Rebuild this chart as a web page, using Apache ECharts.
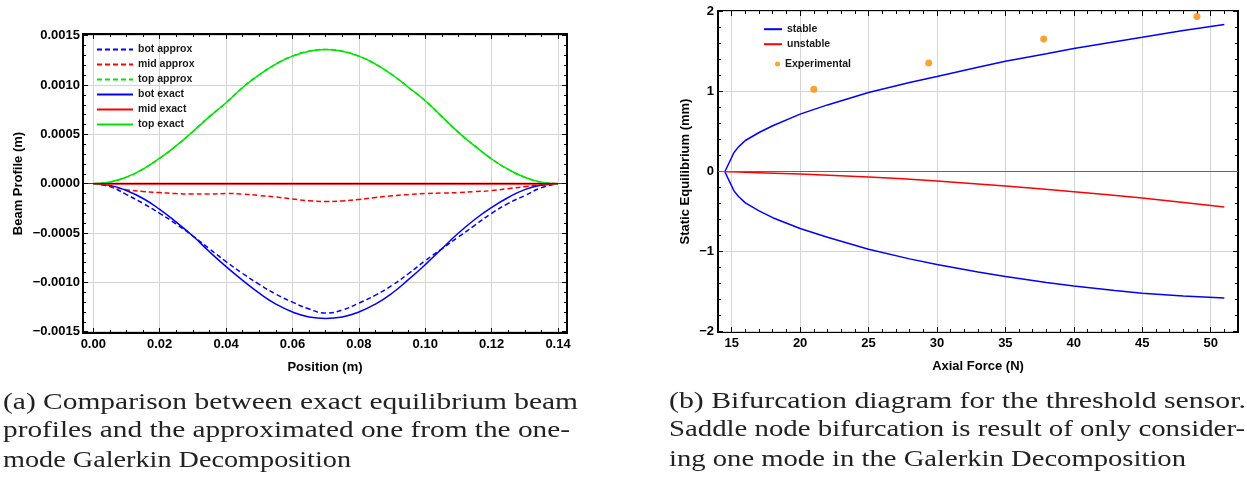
<!DOCTYPE html>
<html>
<head>
<meta charset="utf-8">
<script src="https://cdn.jsdelivr.net/npm/echarts@6/dist/echarts.min.js"></script>
<style>
html,body{margin:0;padding:0;background:#fff;}
#chart{width:1247px;height:483px;}
</style>
</head>
<body>
<div id="chart"></div>
<script>
// ---------- Panel (a): beam profiles ----------
const positionX = [0, 0.005, 0.01, 0.015, 0.02, 0.025, 0.03, 0.035, 0.04, 0.045, 0.05, 0.055, 0.06, 0.065, 0.07,
  0.075, 0.08, 0.085, 0.09, 0.095, 0.10, 0.105, 0.11, 0.115, 0.12, 0.125, 0.13, 0.135, 0.14];
const botApprox = [0, -0.00003, -0.00011, -0.0002, -0.0003, -0.00041, -0.00053, -0.00066, -0.00079, -0.00091, -0.00102, -0.00112, -0.0012, -0.00127, -0.00131,
  -0.00128, -0.00121, -0.00113, -0.00103, -0.00091, -0.00078, -0.00066, -0.00054, -0.00042, -0.0003, -0.0002, -0.00012, -0.00004, 0];
const midApprox = [0, -0.000025, -0.00006, -0.00008, -0.00009, -0.0001, -0.000105, -0.000105, -0.0001, -0.000105, -0.00012, -0.000135, -0.000155, -0.000173, -0.00018,
  -0.000175, -0.00016, -0.00014, -0.000122, -0.00011, -0.0001, -0.000095, -0.00009, -0.00008, -0.00007, -0.00005, -0.00003, -0.00001, 0];
const topApprox = [0, 0.000017, 0.000067, 0.000148, 0.000258, 0.000385, 0.000529, 0.00068, 0.00082, 0.000975, 0.001104, 0.001212, 0.001293, 0.001343, 0.00136,
  0.001343, 0.001293, 0.001212, 0.001104, 0.000975, 0.00084, 0.00068, 0.00052, 0.00038, 0.00025, 0.000145, 0.000065, 0.000016, 0];
const botExact = [0, -0.000017, -0.00007, -0.00015, -0.00026, -0.00039, -0.00053, -0.00069, -0.00084, -0.00098, -0.00111, -0.00122, -0.0013, -0.00135, -0.001365,
  -0.00135, -0.0013, -0.00122, -0.00111, -0.00097, -0.00082, -0.00066, -0.0005, -0.00036, -0.00024, -0.00014, -0.00006, -0.000015, 0];
const midExact = [0, 0, 0, 0, 0, 0, 0, 0, 0, 0, 0, 0, 0, 0, 0, 0, 0, 0, 0, 0, 0, 0, 0, 0, 0, 0, 0, 0, 0];
const topExact = [0, 0.000017, 0.000067, 0.000148, 0.000258, 0.000385, 0.000529, 0.00068, 0.00082, 0.000975, 0.001104, 0.001212, 0.001293, 0.001343, 0.00136,
  0.001343, 0.001293, 0.001212, 0.001104, 0.000975, 0.00084, 0.00068, 0.00052, 0.00038, 0.00025, 0.000145, 0.000065, 0.000016, 0];
const seriesNamesA = ['bot approx', 'mid approx', 'top approx', 'bot exact', 'mid exact', 'top exact'];

const posTicks = [0, 0.02, 0.04, 0.06, 0.08, 0.10, 0.12, 0.14];
const posTickLabels = ['0.00', '0.02', '0.04', '0.06', '0.08', '0.10', '0.12', '0.14'];
const profTicks = [-0.0015, -0.001, -0.0005, 0, 0.0005, 0.001, 0.0015];
const profTickLabels = ['\u22120.0015', '\u22120.0010', '\u22120.0005', '0.0000', '0.0005', '0.0010', '0.0015'];

// ---------- Panel (b): bifurcation ----------
const forceStable = [14.5, 15.17, 15.5, 16, 17, 18, 20, 22, 25, 28, 30, 33, 35, 38, 40, 43, 45, 48, 51];
const stableUpper = [0, 0.24, 0.31, 0.39, 0.49, 0.575, 0.72, 0.835, 0.99, 1.115, 1.19, 1.305, 1.38, 1.475, 1.54, 1.625, 1.68, 1.765, 1.84];
const stableLower = [0, -0.24, -0.31, -0.39, -0.49, -0.575, -0.71, -0.82, -0.97, -1.09, -1.16, -1.255, -1.31, -1.385, -1.43, -1.485, -1.52, -1.555, -1.58];
const forceUnstable = [14.5, 15, 20, 25, 30, 35, 40, 45, 51];
const unstable = [0, -0.002, -0.03, -0.065, -0.115, -0.18, -0.25, -0.33, -0.44];
const expForce = [21.0, 29.4, 37.8, 49.0];
const expDisp = [1.03, 1.36, 1.66, 1.94];

const forceTicks = [15, 20, 25, 30, 35, 40, 45, 50];
const forceTickLabels = ['15', '20', '25', '30', '35', '40', '45', '50'];
const eqTicks = [-2, -1, 0, 1, 2];
const eqTickLabels = ['\u22122', '\u22121', '0', '1', '2'];

// ---------- Captions ----------
const captionA = ['(a) Comparison between exact equilibrium beam',
  'profiles and the approximated one from the one-',
  'mode Galerkin Decomposition'];
const captionB = ['(b) Bifurcation diagram for the threshold sensor.',
  'Saddle node bifurcation is result of only consider-',
  'ing one mode in the Galerkin Decomposition'];

// ---------- helpers ----------
const SANS = '"Liberation Sans", Arial, sans-serif';
const GRIDC = '#d4d4d4';

function minorTicks(lo, hi, step, majorStep) {
  const out = [];
  for (let i = Math.ceil(lo / step - 1e-9); i * step <= hi + 1e-12; i++) {
    const v = +(i * step).toFixed(10);
    const r = v / majorStep;
    if (Math.abs(r - Math.round(r)) > 1e-6 && v > lo && v < hi) out.push(v);
  }
  return out;
}

function axisSet(isX, gridIndex, min, max, majors, labels, minors, name, nameGap, labelMargin, splitNumber) {
  const tol = (max - min) * 1e-6;
  const fmt = v => {
    for (let i = 0; i < majors.length; i++) if (Math.abs(v - majors[i]) <= tol) return labels[i];
    return '';
  };
  const base = {
    type: 'value', gridIndex, min, max, splitNumber,
    axisLine: { show: false, onZero: false }, splitLine: { show: false }, axisLabel: { show: false }
  };
  const tick = (vals, len) => ({ show: true, inside: true, length: len, customValues: vals, lineStyle: { color: '#000', width: 1 } });
  const pMain = isX ? 'bottom' : 'left';
  const pOpp = isX ? 'top' : 'right';
  return [
    Object.assign({}, base, {
      position: pMain, name, nameLocation: 'middle', nameGap,
      nameTextStyle: { fontFamily: SANS, fontWeight: 'bold', fontSize: 13, color: '#000' },
      axisTick: tick(majors, 5),
      axisLabel: { show: true, customValues: majors, formatter: fmt, margin: labelMargin,
        fontFamily: SANS, fontWeight: 'bold', fontSize: 13, color: '#000' },
      splitLine: { show: true, lineStyle: { color: GRIDC, width: 1 } }
    }),
    Object.assign({}, base, { position: pMain, axisTick: tick(minors, 3) }),
    Object.assign({}, base, { position: pOpp, axisTick: tick(majors, 5) }),
    Object.assign({}, base, { position: pOpp, axisTick: tick(minors, 3) })
  ];
}

const A = { xmin: -0.0031, xmax: 0.1427, ymin: -0.001513, ymax: 0.001517 };
const B = { xmin: 14, xmax: 52, ymin: -2.004, ymax: 2.009 };

const xAxes = [].concat(
  axisSet(true, 0, A.xmin, A.xmax, posTicks, posTickLabels, minorTicks(A.xmin, A.xmax, 0.005, 0.02), 'Position (m)', 28, 5, 7),
  axisSet(true, 1, B.xmin, B.xmax, forceTicks, forceTickLabels, minorTicks(B.xmin, B.xmax, 1, 5), 'Axial Force (N)', 28, 5, 8)
);
const yAxes = [].concat(
  axisSet(false, 0, A.ymin, A.ymax, profTicks, profTickLabels, minorTicks(A.ymin, A.ymax, 0.0001, 0.0005), 'Beam Profile (m)', 58, 3, 6),
  axisSet(false, 1, B.ymin, B.ymax, eqTicks, eqTickLabels, minorTicks(B.ymin, B.ymax, 0.2, 1), 'Static Equilibrium (mm)', 26, 4, 4)
);

const pairs = (xs, ys) => xs.map((x, i) => [x, ys[i]]);
const BLUE = '#0000ff', RED = '#ff0000', GREEN = '#00e600', ORANGE = '#ff8a00';

function lineA(name, data, color, dashed, extra) {
  return Object.assign({
    type: 'line', name, xAxisIndex: 0, yAxisIndex: 0, data: pairs(positionX, data),
    symbol: 'none', showSymbol: false, smooth: true, z: 3,
    lineStyle: { color, width: 1.5, type: dashed ? [5, 3] : 'solid' },
    itemStyle: { color }
  }, extra || {});
}

const zeroLine = (color) => ({
  silent: true, symbol: ['none', 'none'], label: { show: false }, z: 10,
  lineStyle: { color, width: 1, type: 'solid' }, data: [{ yAxis: 0 }], animation: false
});

const series = [
  lineA('bot approx', botApprox, BLUE, true),
  lineA('mid approx', midApprox, RED, true),
  lineA('top approx', topApprox, GREEN, true),
  lineA('bot exact', botExact, BLUE, false),
  lineA('mid exact', midExact, RED, false, { lineStyle: { color: RED, width: 2 } }),
  lineA('top exact', topExact, GREEN, false, { markLine: zeroLine('rgba(40,0,0,0.75)') }),
  { type: 'line', name: 'stable', xAxisIndex: 4, yAxisIndex: 4, data: pairs(forceStable, stableUpper),
    symbol: 'none', showSymbol: false, smooth: false, lineStyle: { color: BLUE, width: 1.5 }, itemStyle: { color: BLUE },
    markLine: zeroLine('#666') },
  { type: 'line', name: 'stable', xAxisIndex: 4, yAxisIndex: 4, data: pairs(forceStable, stableLower),
    symbol: 'none', showSymbol: false, smooth: false, lineStyle: { color: BLUE, width: 1.5 }, itemStyle: { color: BLUE } },
  { type: 'line', name: 'unstable', xAxisIndex: 4, yAxisIndex: 4, data: pairs(forceUnstable, unstable),
    symbol: 'none', showSymbol: false, smooth: 0.2, lineStyle: { color: RED, width: 1.5 }, itemStyle: { color: RED } },
  { type: 'scatter', name: 'Experimental', xAxisIndex: 4, yAxisIndex: 4, data: pairs(expForce, expDisp),
    symbol: 'circle', symbolSize: 7, itemStyle: { color: ORANGE } }
];

const legendText = { fontFamily: SANS, fontWeight: 'bold', fontSize: 10.5, color: '#1a1a1a' };

// captions as real text, each line fitted to the column width of the original layout
const measureCtx = document.createElement('canvas').getContext('2d');
const CAPFONT = '24px "Liberation Serif", "Times New Roman", serif';
measureCtx.font = CAPFONT;
function captionGraphics(lines, x0, ends, ys) {
  return lines.map((t, i) => {
    const w = measureCtx.measureText(t).width;
    const s = (ends[i] - x0) / w;
    return { type: 'text', x: x0, y: ys[i], scaleX: s, scaleY: 1, silent: true,
      style: { text: t, font: CAPFONT, fill: '#222', align: 'left', verticalAlign: 'middle' } };
  });
}

const option = {
  backgroundColor: '#ffffff',
  animation: false,
  grid: [
    { left: 83, top: 34, width: 484, height: 299, show: true, borderColor: '#000', borderWidth: 2, backgroundColor: 'transparent' },
    { left: 718, top: 11, width: 520, height: 321, show: true, borderColor: '#000', borderWidth: 2, backgroundColor: 'transparent' }
  ],
  xAxis: xAxes,
  yAxis: yAxes,
  legend: [
    { data: seriesNamesA, orient: 'vertical', left: 96, top: 44, padding: 0, itemWidth: 36, itemHeight: 10, itemGap: 4,
      textStyle: legendText, selectedMode: false, itemStyle: { opacity: 0 } },
    { data: ['stable', 'unstable'], orient: 'vertical', left: 763, top: 23.7, padding: 0, itemWidth: 18, itemHeight: 10, itemGap: 4,
      textStyle: legendText, selectedMode: false, itemStyle: { opacity: 0 } },
    { data: ['Experimental'], orient: 'vertical', left: 775, top: 58.5, padding: 0, itemWidth: 5, itemHeight: 5,
      textStyle: legendText, selectedMode: false }
  ],
  series,
  graphic: [].concat(
    captionGraphics(captionA, 3, [578, 570, 351], [402.5, 431, 461]),
    captionGraphics(captionB, 669, [1246, 1245, 1186], [401.5, 430, 460])
  )
};

const chart = echarts.init(document.getElementById('chart'), null, { renderer: 'canvas' });
chart.setOption(option);
</script>
</body>
</html>
